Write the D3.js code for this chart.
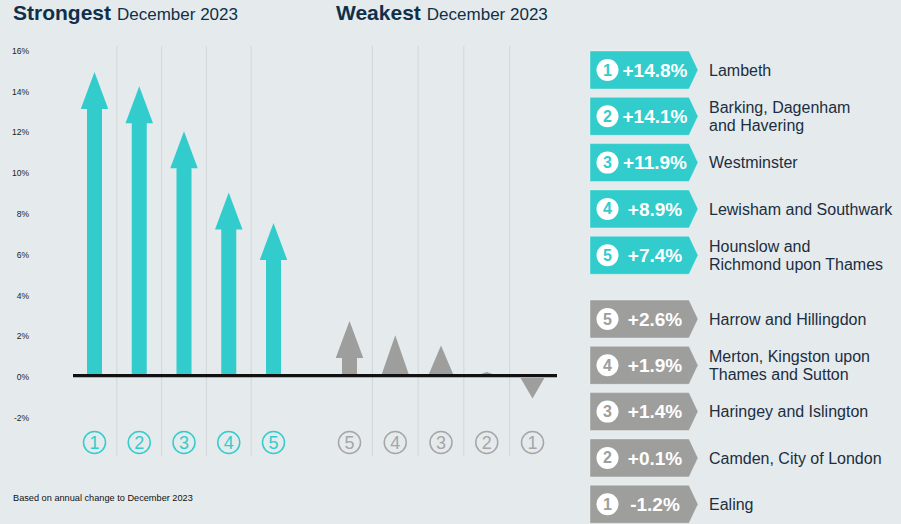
<!DOCTYPE html>
<html>
<head>
<meta charset="utf-8">
<script src="https://cdn.jsdelivr.net/npm/d3@7"></script>
<style>
  body { margin: 0; background: #e5eaed; }
  svg { display: block; font-family: "Liberation Sans", Arial, sans-serif; }
</style>
</head>
<body>
<svg id="chart" width="901" height="524"></svg>
<script>
// data
var strongRanks = [1, 2, 3, 4, 5];
var strongValues = [14.8, 14.1, 11.9, 8.9, 7.4];
var strongNames = [["Lambeth"], ["Barking, Dagenham", "and Havering"], ["Westminster"],
                   ["Lewisham and Southwark"], ["Hounslow and", "Richmond upon Thames"]];
var weakRanks = [5, 4, 3, 2, 1];
var weakValues = [2.6, 1.9, 1.4, 0.1, -1.2];
var weakNames = [["Harrow and Hillingdon"], ["Merton, Kingston upon", "Thames and Sutton"],
                 ["Haringey and Islington"], ["Camden, City of London"], ["Ealing"]];
var yTicks = [16, 14, 12, 10, 8, 6, 4, 2, 0, -2];
var period = "December 2023";

var teal = "#33cccc", grey = "#9e9e9c", navy = "#0f3048", text = "#1c2e40";

var svg = d3.select("#chart");

svg.append("rect").attr("width", 901).attr("height", 524).attr("fill", "#e5eaed");

var zero = 374;
var y = d3.scaleLinear().domain([-2, 16]).range([zero + 2 * 20.4, zero - 16 * 20.4]);
var xStrong = d3.scalePoint().domain(strongRanks).range([94.5, 273.5]);
var xWeak = d3.scalePoint().domain(weakRanks).range([349.5, 532.5]);

// titles
function title(x, word) {
  var t = svg.append("text").attr("x", x).attr("y", 20).attr("fill", navy);
  t.append("tspan").attr("font-weight", "bold").attr("font-size", 21).text(word);
  t.append("tspan").attr("font-size", 17).attr("dx", 6).text(period);
}
title(13, "Strongest");
title(336, "Weakest");

// y tick labels
svg.selectAll(".tick").data(yTicks).enter().append("text")
  .attr("x", 29).attr("y", function(d) { return y(d) + 4; })
  .attr("text-anchor", "end").attr("dominant-baseline", "middle")
  .attr("font-size", 8.5).attr("fill", "#222")
  .text(function(d) { return d + "%"; });

// vertical separators
function gridlines(scale) {
  var xs = scale.domain().map(scale);
  for (var i = 0; i < xs.length - 1; i++) {
    svg.append("line")
      .attr("x1", (xs[i] + xs[i + 1]) / 2).attr("x2", (xs[i] + xs[i + 1]) / 2)
      .attr("y1", 46).attr("y2", 456)
      .attr("stroke", "#d3d6d8").attr("stroke-width", 1);
  }
}
gridlines(xStrong);
gridlines(xWeak);

// arrows
var headH = 37, headW = 27.5, shaftW = 15;
function arrowPath(cx, v) {
  var y0 = y(0), y1 = y(v), h = Math.abs(y1 - y0), dir = v >= 0 ? -1 : 1;
  if (v < 0) y0 += 3;
  if (h >= headH + 5) {
    var yb = y1 - dir * headH;
    return "M" + (cx - shaftW / 2) + "," + y0 + "L" + (cx - shaftW / 2) + "," + yb +
      "L" + (cx - headW / 2) + "," + yb + "L" + cx + "," + y1 +
      "L" + (cx + headW / 2) + "," + yb + "L" + (cx + shaftW / 2) + "," + yb +
      "L" + (cx + shaftW / 2) + "," + y0 + "Z";
  }
  var w = headW * Math.min(1, 0.6 + 0.4 * h / headH);
  return "M" + (cx - w / 2) + "," + (y0 + 1) + "L" + cx + "," + y1 + "L" + (cx + w / 2) + "," + (y0 + 1) + "Z";
}

function arrows(scale, ranks, values, color) {
  svg.append("g").selectAll("path").data(values).enter().append("path")
    .attr("d", function(d, i) { return arrowPath(scale(ranks[i]), d); })
    .attr("fill", color);
}
arrows(xStrong, strongRanks, strongValues, teal);
arrows(xWeak, weakRanks, weakValues, grey);

// baseline
svg.append("line").attr("x1", 73).attr("x2", 557)
  .attr("y1", zero + 1.6).attr("y2", zero + 1.6)
  .attr("stroke", "#111").attr("stroke-width", 3.2);

// rank circles under the chart
function rankCircles(scale, ranks, color) {
  var g = svg.append("g").selectAll("g").data(ranks).enter().append("g")
    .attr("transform", function(d) { return "translate(" + scale(d) + ",442.5)"; });
  g.append("circle").attr("r", 11).attr("fill", "none").attr("stroke", color).attr("stroke-width", 1.5);
  g.append("text").attr("text-anchor", "middle").attr("y", 6.5)
    .attr("font-size", 18).attr("fill", color).text(function(d) { return d; });
}
rankCircles(xStrong, strongRanks, teal);
rankCircles(xWeak, weakRanks, "#a6a6a6");

// right-hand list
function fmt(v) { return (v >= 0 ? "+" : "-") + Math.abs(v).toFixed(1) + "%"; }

function badges(top, ranks, values, names, color) {
  var g = svg.append("g").selectAll("g").data(values).enter().append("g")
    .attr("transform", function(d, i) { return "translate(0," + (top + i * 46.3) + ")"; });
  g.append("path").attr("d", "M590,0L689,0L698,19L689,38L590,38Z")
    .attr("fill", color).attr("stroke", "rgba(255,255,255,0.35)").attr("stroke-width", 1);
  g.append("circle").attr("cx", 607.5).attr("cy", 19).attr("r", 11).attr("fill", "#fff");
  g.append("text").attr("x", 607.5).attr("y", 24.5).attr("text-anchor", "middle")
    .attr("font-size", 16).attr("font-weight", "bold").attr("fill", color)
    .text(function(d, i) { return ranks[i]; });
  g.append("text").attr("x", 655).attr("y", 25.8).attr("text-anchor", "middle")
    .attr("font-size", 19).attr("font-weight", "bold").attr("fill", "#fff")
    .text(function(d) { return fmt(d); });
  g.each(function(d, i) {
    var lines = names[i];
    d3.select(this).selectAll(".name").data(lines).enter().append("text")
      .attr("x", 709)
      .attr("y", function(l, j) { return 19 + (j - (lines.length - 1) / 2) * 18 + 5.7; })
      .attr("font-size", 16).attr("fill", text)
      .text(function(l) { return l; });
  });
}
badges(51, strongRanks, strongValues, strongNames, teal);
badges(300, weakRanks, weakValues, weakNames, grey);

// footnote
svg.append("text").attr("x", 13).attr("y", 501).attr("font-size", 9.2).attr("fill", "#111")
  .text("Based on annual change to " + period);
</script>
</body>
</html>
